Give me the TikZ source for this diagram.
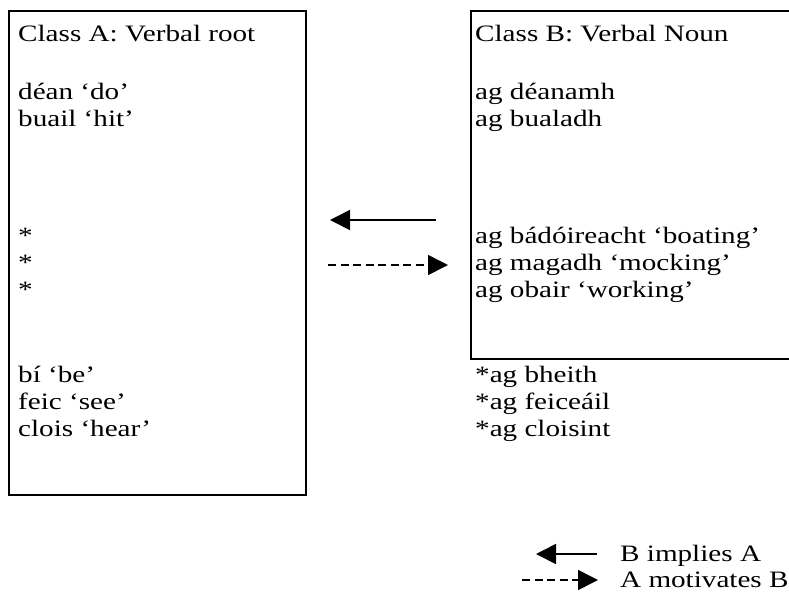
\documentclass[tikz,border=0pt]{standalone}
\usepackage{fontspec}
\setmainfont[FakeStretch=1.24]{Liberation Serif}
\usetikzlibrary{arrows.meta}
\begin{document}
\begin{tikzpicture}[x=1pt,y=-1pt,
  frame/.style={draw,line width=2.4pt,inner sep=0pt,anchor=north west},
  entry/.style={anchor=base west,inner sep=0pt,font=\fontsize{23.5}{27}\selectfont},
  implies/.style={line width=1.6pt,-{Triangle[length=20pt,width=20pt]}},
  motivates/.style={implies,dash pattern=on 8pt off 4.5pt}]
\useasboundingbox (0,0) rectangle (789,598);
\clip (0,0) rectangle (789,598);

% the two classes
\node[frame,minimum width=297.5pt,minimum height=484pt] (classA) at (7.5,10) {};
\node[frame,minimum width=340pt,minimum height=348pt] (classB) at (470,10) {};

% Class A column
\node[entry] (aHead) at (18,41) {Class A: Verbal root};
\node[entry] (aDo)   at (18,99) {déan ‘do’};
\node[entry] (aHit)  at (18,126) {buail ‘hit’};
\node[entry] (aS1)   at (18,243) {*};
\node[entry] (aS2)   at (18,270) {*};
\node[entry] (aS3)   at (18,297) {*};
\node[entry] (aBe)   at (18,382) {bí ‘be’};
\node[entry] (aSee)  at (18,409) {feic ‘see’};
\node[entry] (aHear) at (18,436) {clois ‘hear’};

% Class B column
\node[entry] (bHead) at (475,41) {Class B: Verbal Noun};
\node[entry] (bDo)   at (475,99) {ag déanamh};
\node[entry] (bHit)  at (475,126) {ag bualadh};
\node[entry] (bBoat) at (475,243) {ag bádóireacht ‘boating’};
\node[entry] (bMock) at (475,270) {ag magadh ‘mocking’};
\node[entry] (bWork) at (475,297) {ag obair ‘working’};
\node[entry] (bBe)   at (475,382) {*ag bheith};
\node[entry] (bSee)  at (475,409) {*ag feiceáil};
\node[entry] (bHear) at (475,436) {*ag cloisint};

% relations between the classes
\coordinate (impFrom) at (436,220);
\coordinate (impTo)   at (330,220);
\coordinate (motFrom) at (328,265);
\coordinate (motTo)   at (448,265);
\draw[implies] (impFrom) -- (impTo);
\draw[motivates] (motFrom) -- (motTo);

% key
\coordinate (kImpFrom) at (597,554);
\coordinate (kImpTo)   at (536,554);
\coordinate (kMotFrom) at (522,580);
\coordinate (kMotTo)   at (598,580);
\draw[implies] (kImpFrom) -- (kImpTo);
\draw[motivates] (kMotFrom) -- (kMotTo);
\node[entry] (kImp) at (620,561) {B implies A};
\node[entry] (kMot) at (620,587) {A motivates B};
\end{tikzpicture}
\end{document}
